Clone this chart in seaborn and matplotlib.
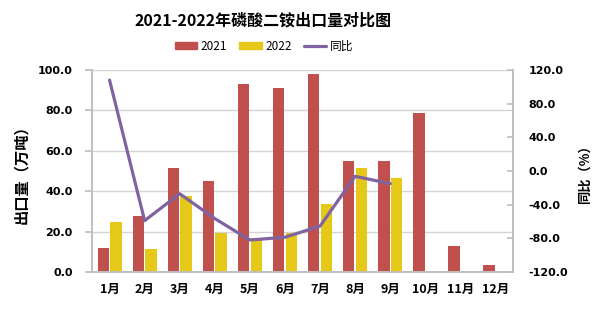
import matplotlib
matplotlib.use("Agg")
import matplotlib.pyplot as plt
import seaborn as sns
import pandas as pd
from matplotlib.patches import Patch
from matplotlib.lines import Line2D

months = ["1月", "2月", "3月", "4月", "5月", "6月", "7月", "8月", "9月", "10月", "11月", "12月"]
v2021 = [11.9, 27.7, 51.5, 45.0, 93.1, 91.1, 98.0, 55.1, 55.1, 78.9, 12.9, 3.5]
v2022 = [24.8, 11.4, 37.6, 19.5, 16.8, 19.5, 33.7, 51.5, 46.5]
yoy = [108.0, -59.0, -27.0, -56.5, -82.0, -78.7, -65.5, -6.3, -15.0]
left_ticks = [0, 20, 40, 60, 80, 100]
right_ticks = [-120, -80, -40, 0, 40, 80, 120]

sns.set_theme(style="white")
plt.rcParams['font.family'] = ['Noto Sans CJK SC', 'DejaVu Sans']
plt.rcParams['text.color'] = 'black'
plt.rcParams['axes.labelcolor'] = 'black'
plt.rcParams['xtick.color'] = 'black'
plt.rcParams['ytick.color'] = 'black'

rows = []
for m, v in zip(months, v2021):
    rows.append({"month": m, "year": "2021", "value": v})
for m, v in zip(months[:len(v2022)], v2022):
    rows.append({"month": m, "year": "2022", "value": v})
df = pd.DataFrame(rows)
line_df = pd.DataFrame({"month": months[:len(yoy)], "yoy": yoy})

c21, c22, cl = "#C0504D", "#E5C818", "#8064A2"
grey = "#BFBFBF"

fig = plt.figure(figsize=(6.05, 3.21), dpi=100)
ax = fig.add_axes([92/605, 49/321, 421/605, 202/321])
sns.barplot(data=df, x="month", y="value", hue="year", order=months,
            hue_order=["2021", "2022"], palette=[c21, c22],
            width=0.72, gap=0.1, ax=ax, legend=False, saturation=1, linewidth=0)
ax.set_xlim(-0.5, 11.5)
ax.set_ylim(0, 100)
ax.set_yticks(left_ticks)
ax.set_yticklabels([f"{t:.1f}" for t in left_ticks], fontsize=8, fontweight='bold',
                   family=['DejaVu Sans'])
ax.set_xticks(range(12))
ax.set_xticklabels(months, fontsize=9, fontweight='bold')
ax.tick_params(axis='x', length=0, pad=8)
ax.tick_params(axis='y', length=5, color=grey, labelcolor='black', pad=9,
               direction='out', left=True)
ax.yaxis.grid(True, color="#D4D4D4", linewidth=1)
ax.set_axisbelow(True)
ax.set_xlabel("")
ax.set_ylabel("出口量（万吨）", fontsize=11, fontweight='bold', labelpad=6)
for s in ["left", "bottom", "right", "top"]:
    ax.spines[s].set_color(grey)
ax.spines["top"].set_visible(False)

ax2 = ax.twinx()
sns.lineplot(data=line_df, x="month", y="yoy", color=cl, linewidth=2.3, ax=ax2,
             sort=False)
ax2.set_xlim(-0.5, 11.5)
ax2.set_ylim(-120, 120)
ax2.set_yticks(right_ticks)
ax2.set_yticklabels([f"{t:.1f}" for t in right_ticks], fontsize=8, fontweight='bold',
                    family=['DejaVu Sans'])
ax2.tick_params(axis='y', length=4, direction='in', color=grey, labelcolor='black',
                pad=11, right=True)
ax2.set_ylabel("同比（%）", fontsize=9.5, fontweight='bold', labelpad=7, rotation=90)
ax2.set_xlabel("")
for s in ["left", "bottom", "right", "top"]:
    ax2.spines[s].set_color(grey)
ax2.spines["top"].set_visible(False)

fig.text(263/605, 1 - 21/321, "2021-2022年磷酸二铵出口量对比图", ha='center', va='center',
         fontsize=11.5, fontweight='heavy')
handles = [Patch(color=c21), Patch(color=c22), Line2D([0], [0], color=cl, linewidth=2.3)]
fig.legend(handles, ["2021", "2022", "同比"], loc='center',
           bbox_to_anchor=(264/605, 1 - 46/321),
           ncol=3, frameon=False, fontsize=8.5, handlelength=1.9, handleheight=0.55,
           columnspacing=1.0, handletextpad=0.3)

fig.savefig("out.png", dpi=100)
